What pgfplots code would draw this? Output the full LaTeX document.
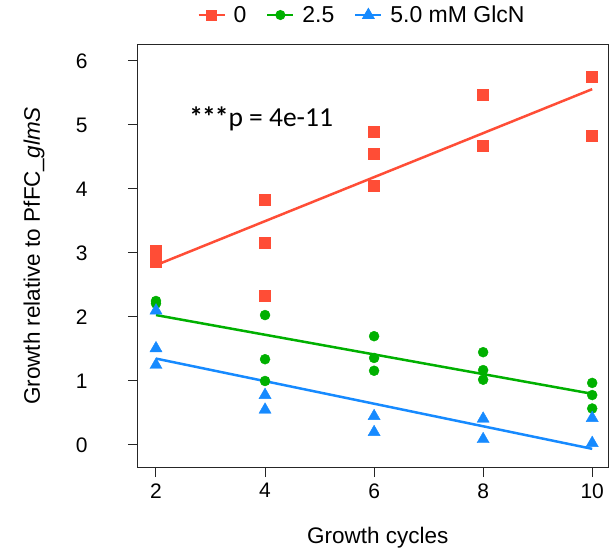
\documentclass[border=0pt]{standalone}
\usepackage{fontspec}
\setmainfont{Liberation Sans}
\newfontfamily\carlito{Carlito}
\usepackage{pgfplots}
\pgfplotsset{compat=1.18}
\definecolor{cRed}{RGB}{255,77,54}
\definecolor{cGreen}{RGB}{0,176,0}
\definecolor{cBlue}{RGB}{22,138,255}

\begin{document}
\begin{tikzpicture}
\useasboundingbox (-138pt,-85pt) rectangle (474pt,467pt);
\begin{axis}[
  at={(0pt,0pt)}, anchor=south west,
  scale only axis, width=470pt, height=422pt,
  xmin=1.67, xmax=10.29, ymin=-0.344, ymax=6.25,
  xtick={2,4,6,8,10}, ytick={0,1,2,3,4,5,6},
  tick align=outside, major tick length=10pt, tick pos=left,
  axis line style={black!85, line width=1pt},
  tick style={black!85, line width=1pt},
  ticklabel style={font=\fontsize{21}{25}\selectfont},
  /pgf/number format/assume math mode=true,
  yticklabel style={xshift=-37pt},
  xticklabel style={yshift=-3pt},
  xlabel={Growth cycles},
  ylabel={Growth relative to PfFC\_\textit{glmS}},
  every axis x label/.style={at={(axis description cs:0.51,-0.168)}, anchor=center,
    font=\fontsize{22.5}{26}\selectfont},
  every axis y label/.style={at={(axis description cs:-0.221,0.5)}, rotate=90, anchor=center,
    font=\fontsize{22.5}{26}\selectfont},
  clip=false,
  legend columns=3,
  legend style={draw=none, fill=none, at={(axis description cs:0.12,1.071)}, anchor=west,
    nodes={font=\fontsize{23}{27}\selectfont},
    /tikz/every odd column/.append style={column sep=6pt},
    /tikz/every even column/.append style={column sep=18pt}},
  legend image code/.code={\draw[mark repeat=2, mark phase=2, #1] plot coordinates {(0pt,0pt) (13pt,0pt) (26pt,0pt)};},
]
% data points
\addplot[only marks, mark=square*, mark size=5.5pt, color=cRed, forget plot] coordinates {
 (2,3.03) (2,2.95) (2,2.87)
 (4,3.83) (4,3.16) (4,2.34)
 (6,4.89) (6,4.55) (6,4.05)
 (8,5.47) (8,4.67)
 (10,5.75) (10,4.84)};
\addplot[only marks, mark=*, mark size=5pt, color=cGreen, forget plot] coordinates {
 (2,2.25) (2,2.21)
 (4,2.03) (4,1.34) (4,1.00)
 (6,1.70) (6,1.36) (6,1.16)
 (8,1.45) (8,1.17) (8,1.02)
 (10,0.97) (10,0.78) (10,0.57)};
\addplot[only marks, mark=triangle*, mark size=7pt, color=cBlue, forget plot] coordinates {
 (2,2.10) (2,1.51) (2,1.25)
 (4,0.78) (4,0.55)
 (6,0.45) (6,0.20)
 (8,0.41) (8,0.09)
 (10,0.42) (10,0.03)};
% regression lines
\addplot[cRed, line width=2.5pt, forget plot] coordinates {(2,2.81) (10,5.56)};
\addplot[cGreen, line width=2.5pt, forget plot] coordinates {(2,2.03) (10,0.80)};
\addplot[cBlue, line width=2.5pt, forget plot] coordinates {(2,1.35) (10,-0.06)};
\addlegendimage{cRed, line width=2pt, mark=square*, mark size=4.5pt}
\addlegendentry{0}
\addlegendimage{cGreen, line width=2pt, mark=*, mark size=4pt}
\addlegendentry{2.5}
\addlegendimage{cBlue, line width=2pt, mark=triangle*, mark size=5.5pt}
\addlegendentry{5.0 mM GlcN}
\node[anchor=base west, inner sep=0pt, font=\carlito\fontsize{27.5}{32}\selectfont] at (axis cs:2.61,4.97) {{\bfseries*\kern-1pt*\kern-1pt*}p = 4e-11};
\end{axis}
\end{tikzpicture}
\end{document}
